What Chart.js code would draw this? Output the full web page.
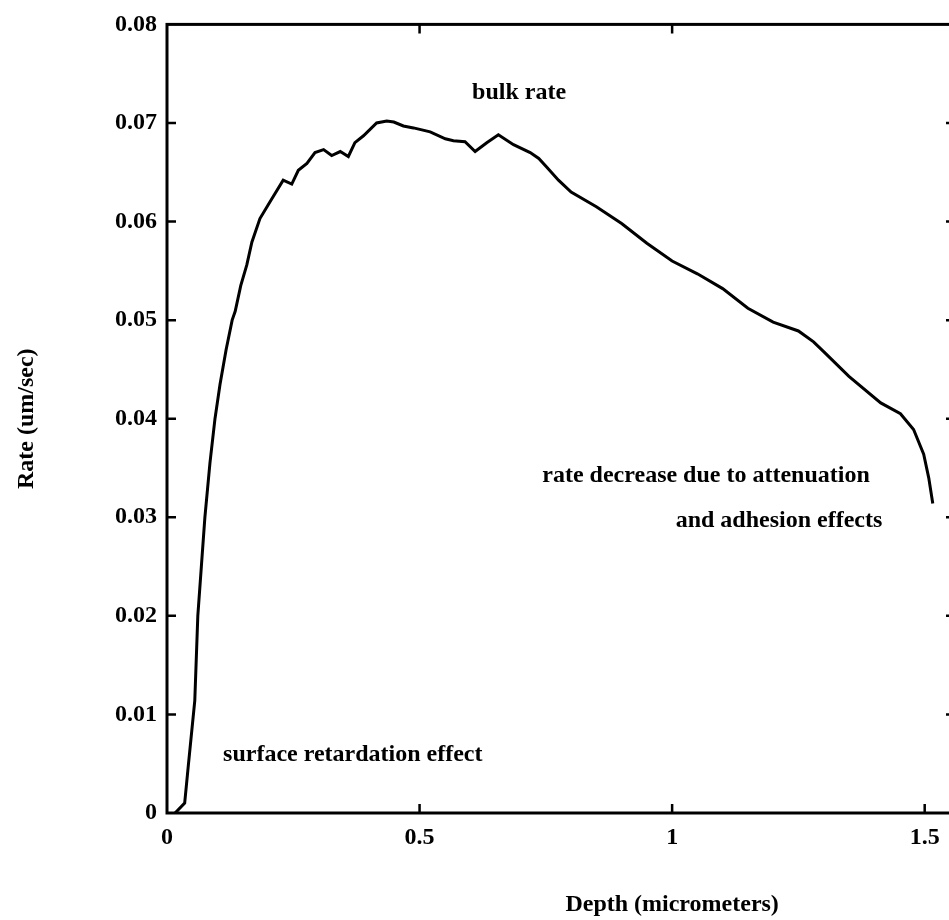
<!DOCTYPE html>
<html>
<head>
<meta charset="utf-8">
<script src="https://cdn.jsdelivr.net/npm/chart.js@4/dist/chart.umd.min.js"></script>
<style>
    html, body { margin: 0; padding: 0; background: #fff; overflow: hidden; }
    #wrap { width: 975px; height: 920px; }
</style>
</head>
<body>
<div id="wrap"><canvas id="rateChart" width="975" height="920"></canvas></div>
<script>
// Rate vs depth
const depth = [0.016, 0.035, 0.042, 0.055, 0.061, 0.068, 0.075, 0.085, 0.095, 0.105,
    0.117, 0.129, 0.135, 0.146, 0.158, 0.168, 0.184, 0.204, 0.230, 0.247,
    0.260, 0.277, 0.293, 0.310, 0.326, 0.343, 0.359, 0.372, 0.389, 0.415,
    0.435, 0.449, 0.468, 0.488, 0.521, 0.551, 0.567, 0.590, 0.610, 0.633,
    0.656, 0.686, 0.719, 0.736, 0.752, 0.775, 0.80, 0.85, 0.90, 0.95,
    1.00, 1.05, 1.10, 1.15, 1.20, 1.25, 1.28, 1.30, 1.35, 1.413,
    1.452, 1.478, 1.498, 1.508, 1.516];
const rate = [0.0000, 0.0010, 0.0047, 0.0114, 0.0200, 0.0250, 0.0300, 0.0355, 0.0400, 0.0435,
    0.0470, 0.0500, 0.0509, 0.0535, 0.0556, 0.0579, 0.0603, 0.0620, 0.0642, 0.0638,
    0.0652, 0.0659, 0.0670, 0.0673, 0.0667, 0.0671, 0.0666, 0.0680, 0.0687, 0.0700,
    0.0702, 0.0701, 0.0697, 0.0695, 0.0691, 0.0684, 0.0682, 0.0681, 0.0671, 0.0680,
    0.0688, 0.0678, 0.0670, 0.0664, 0.0655, 0.0642, 0.0630, 0.0615, 0.0598, 0.0578,
    0.0560, 0.0547, 0.0532, 0.0512, 0.0498, 0.0489, 0.0478, 0.0468, 0.0443, 0.0416,
    0.0405, 0.0389, 0.0364, 0.0340, 0.0314];

const xTicks = [0, 0.5, 1, 1.5];
const yTicks = [0, 0.01, 0.02, 0.03, 0.04, 0.05, 0.06, 0.07, 0.08];
const xTopTicks = [0.5, 1];

const notes = [
    { text: 'bulk rate', x: 0.604, y: 0.0731 },
    { text: 'surface retardation effect', x: 0.111, y: 0.0059 },
    { text: 'rate decrease due to attenuation', x: 0.743, y: 0.0342 },
    { text: 'and adhesion effects', x: 1.007, y: 0.0296 }
];

const FONT = { family: '"Liberation Serif", "DejaVu Serif", serif', size: 24, weight: 'bold' };

// frame + inward ticks + annotations
const framePlugin = {
    id: 'frame',
    afterDraw(chart) {
        const c = chart.ctx;
        const a = chart.chartArea;
        const xs = chart.scales.x;
        const ys = chart.scales.y;
        const tl = 9;
        c.save();
        c.strokeStyle = '#000';
        c.lineWidth = 3;
        c.strokeRect(a.left, a.top, a.right - a.left, a.bottom - a.top);
        c.lineWidth = 2.5;
        c.beginPath();
        xTicks.forEach(function (v) {
            if (v === 0) return;
            const px = xs.getPixelForValue(v);
            c.moveTo(px, a.bottom);
            c.lineTo(px, a.bottom - tl);
        });
        xTopTicks.forEach(function (v) {
            const px = xs.getPixelForValue(v);
            c.moveTo(px, a.top);
            c.lineTo(px, a.top + tl);
        });
        yTicks.forEach(function (v) {
            if (v === 0 || v === 0.08) return;
            const py = ys.getPixelForValue(v);
            c.moveTo(a.left, py);
            c.lineTo(a.left + tl, py);
            c.moveTo(a.right, py);
            c.lineTo(a.right - tl, py);
        });
        c.stroke();

        c.fillStyle = '#000';
        c.font = 'bold 24px "Liberation Serif", "DejaVu Serif", serif';
        c.textBaseline = 'middle';
        c.textAlign = 'left';
        notes.forEach(function (n) {
            c.fillText(n.text, xs.getPixelForValue(n.x), ys.getPixelForValue(n.y));
        });

        // x axis title, centred under depth = 1
        c.textAlign = 'center';
        c.fillText('Depth (micrometers)', xs.getPixelForValue(1), 905);
        c.restore();
    }
};

new Chart(document.getElementById('rateChart'), {
    type: 'line',
    data: {
        datasets: [{
            data: depth.map(function (d, i) { return { x: d, y: rate[i] }; }),
            borderColor: '#000',
            borderWidth: 3,
            pointRadius: 0,
            tension: 0,
            fill: false
        }]
    },
    options: {
        responsive: false,
        animation: false,
        layout: { padding: { left: 0, top: 22, right: 20, bottom: 0 } },
        plugins: {
            legend: { display: false },
            tooltip: { enabled: false }
        },
        scales: {
            x: {
                type: 'linear',
                min: 0,
                max: 1.56,
                afterBuildTicks: function (s) { s.ticks = xTicks.map(function (v) { return { value: v }; }); },
                afterFit: function (s) { s.height = 107; },
                grid: { display: false, drawTicks: false },
                border: { display: false },
                ticks: {
                    color: '#000',
                    font: FONT,
                    padding: 10,
                    maxRotation: 0,
                    callback: function (v) { return String(v); }
                }
            },
            y: {
                min: 0,
                max: 0.08,
                afterBuildTicks: function (s) { s.ticks = yTicks.map(function (v) { return { value: v }; }); },
                afterFit: function (s) { s.width = 167; },
                grid: { display: false, drawTicks: false },
                border: { display: false },
                title: {
                    display: true,
                    text: 'Rate (um/sec)',
                    color: '#000',
                    font: FONT,
                    padding: { top: 12, bottom: 0 }
                },
                ticks: {
                    color: '#000',
                    font: FONT,
                    padding: 10,
                    callback: function (v) { return v === 0 ? '0' : v.toFixed(2); }
                }
            }
        }
    },
    plugins: [framePlugin]
});
</script>
</body>
</html>
